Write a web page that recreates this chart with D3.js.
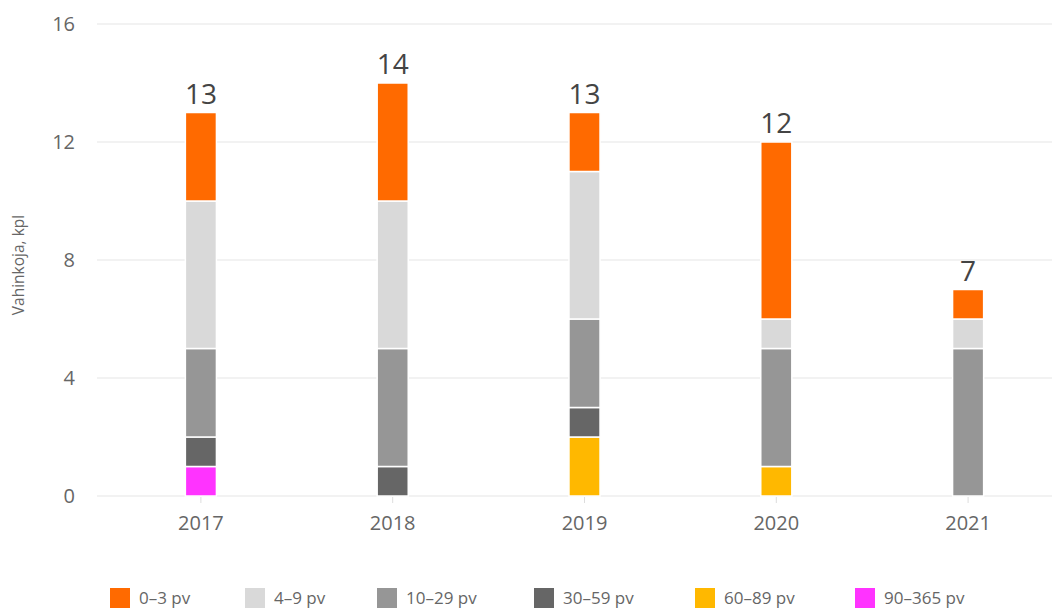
<!DOCTYPE html>
<html><head><meta charset="utf-8">
<script src="https://cdn.jsdelivr.net/npm/d3@7"></script>
<style>body{margin:0;background:#fff}svg{display:block}text{font-family:"Open Sans",sans-serif}</style>
</head><body><svg id="c" width="1052" height="613"></svg>
<script>
const years = ["2017","2018","2019","2020","2021"];
const seriesNames = ["90–365 pv","60–89 pv","30–59 pv","10–29 pv","4–9 pv","0–3 pv"];
const v90_365 = [1,0,0,0,0];
const v60_89  = [0,0,2,1,0];
const v30_59  = [1,1,1,0,0];
const v10_29  = [3,4,3,4,5];
const v4_9    = [5,5,5,1,1];
const v0_3    = [3,4,2,6,1];
const yTicks = [0,4,8,12,16];
const colors = ["#ff33ff","#ffb800","#666666","#969696","#d9d9d9","#ff6a00"];
const legendOrder = ["0–3 pv","4–9 pv","10–29 pv","30–59 pv","60–89 pv","90–365 pv"];

const seriesVals = [v90_365,v60_89,v30_59,v10_29,v4_9,v0_3];
const rows = years.map((y,i)=>{const r={year:y};seriesNames.forEach((s,k)=>r[s]=seriesVals[k][i]);return r;});
const stack = d3.stack().keys(seriesNames)(rows);
const totals = years.map((y,i)=>d3.sum(seriesVals,a=>a[i]));

const svg = d3.select("#c");
const x = d3.scaleBand().domain(years).range([105,1064]).paddingInner(0.838).paddingOuter(0.419);
const y = d3.scaleLinear().domain([0,16]).range([496,24]);
const color = d3.scaleOrdinal().domain(seriesNames).range(colors);

// grid
svg.append("g").selectAll("line").data(yTicks).join("line")
  .attr("x1",97).attr("x2",1052).attr("y1",d=>y(d)).attr("y2",d=>y(d))
  .attr("stroke","#e6e6e6").attr("stroke-width",1.2);

// y tick labels
svg.append("g").selectAll("text").data(yTicks).join("text")
  .attr("x",75).attr("y",d=>y(d)).attr("dy","0.35em").attr("text-anchor","end")
  .attr("fill","#666").attr("font-size",20).text(d=>d);

// y axis title
svg.append("text").attr("transform","translate(24,265) rotate(-90)")
  .attr("text-anchor","middle").attr("fill","#666").attr("font-size",15.5).text("Vahinkoja, kpl");

// x axis ticks
const xa = svg.append("g");
xa.selectAll("line").data(years).join("line")
  .attr("x1",d=>x(d)+x.bandwidth()/2).attr("x2",d=>x(d)+x.bandwidth()/2)
  .attr("y1",497).attr("y2",503).attr("stroke","#ddd");
xa.selectAll("text").data(years).join("text")
  .attr("x",d=>x(d)+x.bandwidth()/2).attr("y",530).attr("text-anchor","middle")
  .attr("fill","#666").attr("font-size",20).text(d=>d);

// bars
svg.append("g").selectAll("g").data(stack).join("g").attr("fill",d=>color(d.key))
  .selectAll("rect").data(d=>d.filter(p=>p[1]>p[0])).join("rect")
  .attr("x",d=>x(d.data.year)).attr("width",x.bandwidth())
  .attr("y",d=>y(d[1])).attr("height",d=>y(d[0])-y(d[1]))
  .attr("stroke","#fff").attr("stroke-width",1.5);

// totals
svg.append("g").selectAll("text").data(years).join("text")
  .attr("x",d=>x(d)+x.bandwidth()/2).attr("y",(d,i)=>y(totals[i])-9)
  .attr("text-anchor","middle").attr("fill","#444").attr("font-size",28).text((d,i)=>totals[i]);

// legend
const lx = [110,245,377,534,695,855];
const lg = svg.append("g").selectAll("g").data(legendOrder).join("g")
  .attr("transform",(d,i)=>`translate(${lx[i]},588)`);
lg.append("rect").attr("width",20).attr("height",20).attr("fill",d=>color(d));
lg.append("text").attr("x",29).attr("y",10).attr("dy","0.35em").attr("fill","#666").attr("font-size",17).text(d=>d);
</script></body></html>
